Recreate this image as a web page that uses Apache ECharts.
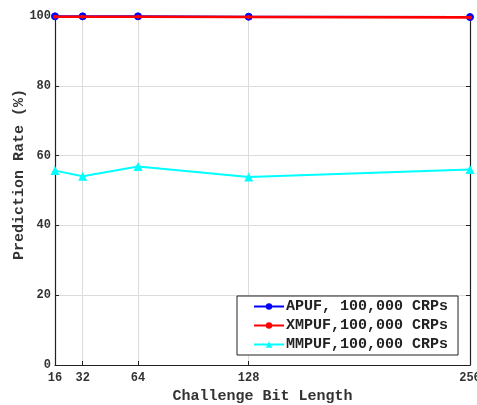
<!DOCTYPE html>
<html>
<head>
<meta charset="utf-8">
<script src="https://cdn.jsdelivr.net/npm/echarts@6/dist/echarts.min.js"></script>
<style>
  html, body { margin: 0; padding: 0; background: #fff; }
  #chart { width: 477px; height: 405px; }
</style>
</head>
<body>
<div id="chart"></div>
<script>
// Challenge bit lengths and prediction rates (%) per PUF design
const bitLengths = [16, 32, 64, 128, 256];
const apufRate = [99.9, 99.9, 99.9, 99.8, 99.7];
const xmpufRate = [99.8, 99.8, 99.8, 99.7, 99.6];
const mmpufRate = [55.7, 54.1, 56.9, 53.9, 56.0];
const yTicks = [0, 20, 40, 60, 80, 100];
const seriesNames = ['APUF, 100,000 CRPs', 'XMPUF,100,000 CRPs', 'MMPUF,100,000 CRPs'];

const FONT = '"Liberation Mono", "DejaVu Sans Mono", monospace';
const pairs = (vals) => bitLengths.map((b, i) => [b, vals[i]]);

const chart = echarts.init(document.getElementById('chart'));

const gridLine = { show: true, lineStyle: { color: '#dcdcdc', width: 1 } };
const boxLine = { show: true, onZero: false, lineStyle: { color: '#222', width: 1.2 } };
const innerTick = { show: true, inside: true, length: 4, lineStyle: { color: '#222' } };

chart.setOption({
  animation: false,
  backgroundColor: '#fff',
  grid: { left: 55, right: 7, top: 16, bottom: 40, containLabel: false, outerBoundsMode: 'none' },
  xAxis: [{
    type: 'value', min: 16, max: 256,
    name: 'Challenge Bit Length', nameLocation: 'middle', nameGap: 24, nameMoveOverlap: false,
    nameTextStyle: { fontFamily: FONT, fontWeight: 'bold', fontSize: 15, color: '#333' },
    axisLine: boxLine,
    axisTick: Object.assign({ customValues: bitLengths }, innerTick),
    axisLabel: { customValues: bitLengths, fontFamily: FONT, fontWeight: 'bold', fontSize: 12, color: '#333', margin: 7 },
    splitLine: gridLine
  }, {
    type: 'value', min: 16, max: 256, position: 'top',
    axisLine: boxLine,
    axisTick: Object.assign({ customValues: bitLengths }, innerTick),
    axisLabel: { show: false },
    splitLine: { show: false }
  }],
  yAxis: [{
    type: 'value', min: 0, max: 100, interval: 20,
    name: 'Prediction Rate (%)', nameLocation: 'middle', nameGap: 28, nameMoveOverlap: false,
    nameTextStyle: { fontFamily: FONT, fontWeight: 'bold', fontSize: 15, color: '#333', padding: [0, 0, 0, 32] },
    axisLine: boxLine,
    axisTick: innerTick,
    axisLabel: { fontFamily: FONT, fontWeight: 'bold', fontSize: 12, color: '#333', margin: 4,
      formatter: (v) => yTicks.includes(v) ? String(v) : '' },
    splitLine: gridLine
  }, {
    type: 'value', min: 0, max: 100, interval: 20, position: 'right',
    axisLine: boxLine,
    axisTick: innerTick,
    axisLabel: { show: false },
    splitLine: { show: false }
  }],
  legend: {
    orient: 'vertical', left: 237, top: 296,
    padding: [3, 10, 3, 16],
    itemGap: 4, itemWidth: 30, itemHeight: 8,
    backgroundColor: '#fff', borderColor: '#222', borderWidth: 1,
    textStyle: { fontFamily: FONT, fontWeight: 'bold', fontSize: 15, color: '#222', padding: [0, 0, 0, -3] },
    data: seriesNames
  },
  series: [{
    name: seriesNames[0], type: 'line', data: pairs(apufRate),
    color: '#0000ff', lineStyle: { width: 2, color: '#0000ff' },
    symbol: 'circle', symbolSize: 7,
    itemStyle: { color: '#0000ff', borderColor: '#0000ff' }, z: 3
  }, {
    name: seriesNames[1], type: 'line', data: pairs(xmpufRate),
    color: '#ff0000', lineStyle: { width: 2.6, color: '#ff0000' },
    symbol: 'circle', symbolSize: 4,
    itemStyle: { color: '#ff0000' }, z: 4
  }, {
    name: seriesNames[2], type: 'line', data: pairs(mmpufRate),
    color: '#00ffff', lineStyle: { width: 2, color: '#00ffff' },
    symbol: 'triangle', symbolSize: 9,
    itemStyle: { color: '#00ffff' }, z: 3
  }]
});
</script>
</body>
</html>
